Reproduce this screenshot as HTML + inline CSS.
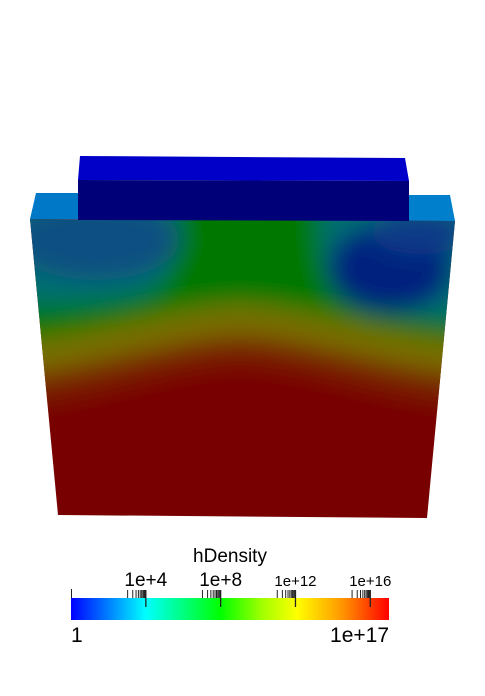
<!DOCTYPE html>
<html><head><meta charset="utf-8"><style>
html,body{margin:0;padding:0;background:#fff;width:485px;height:696px;overflow:hidden}
svg{display:block}
text{font-family:"Liberation Sans","DejaVu Sans",sans-serif;fill:#000}
</style></head><body>
<svg width="485" height="696" viewBox="0 0 485 696">
<defs>
<clipPath id="face"><polygon points="30,219 455,221 427,518 58,515"/></clipPath>
<filter id="blur" x="-20%" y="-20%" width="140%" height="140%"><feGaussianBlur stdDeviation="12"/></filter>
<linearGradient id="cmap" x1="0" x2="1" y1="0" y2="0">
<stop offset="0" stop-color="#0000ff"/><stop offset="0.235" stop-color="#00ffff"/>
<stop offset="0.47" stop-color="#00ff00"/><stop offset="0.6" stop-color="#a0ff00"/>
<stop offset="0.71" stop-color="#ffff00"/><stop offset="0.85" stop-color="#ff9900"/>
<stop offset="1" stop-color="#ff0000"/></linearGradient>
</defs>
<g>
<polygon points="36,193 80,193 78,219 30,219" fill="#0078c8"/>
<polygon points="409,195 450,195 455,221 409,221" fill="#0080cc"/>
<g clip-path="url(#face)">
<rect x="0" y="150" width="485" height="380" fill="#780000"/>
<g filter="url(#blur)">
<path d="M-20,130 L505,130 L505,410 C400,405 300,365 240,365 C180,365 80,405 -20,410Z" fill="#782800"/>
<path d="M-20,130 L505,130 L505,378 C400,372 300,335 240,335 C180,335 80,372 -20,378Z" fill="#787000"/>
<path d="M-20,130 L505,130 L505,345 C400,340 300,305 240,305 C180,305 80,340 -20,345Z" fill="#007800"/>
<path d="M-20,130 L178,130 C180,240 178,285 140,295 C100,305 40,305 -20,305Z" fill="#007070"/>
<path d="M320,130 L505,130 L505,325 C440,320 360,315 335,290 C318,270 318,230 320,130Z" fill="#007070"/>
<ellipse cx="95" cy="240" rx="85" ry="40" fill="#0a5082"/>
<ellipse cx="390" cy="268" rx="62" ry="45" fill="#06207e"/>
<ellipse cx="420" cy="232" rx="50" ry="22" fill="#0a3a88"/>
</g></g></g>
<g>
<polygon points="80,156 405,158 409,181 78,180" fill="#0000c8"/>
<polygon points="78,180 409,181 409,221 78,220" fill="#000078"/>
</g>
<g>
<text x="230" y="562" font-size="19" text-anchor="middle">hDensity</text>
<rect x="71" y="598" width="318" height="22" fill="url(#cmap)"/>
<g id="ticks"></g>
<text x="71" y="642" font-size="21">1</text>
<text x="389" y="642" font-size="21" text-anchor="end">1e+17</text>
</g>
</svg>
<script>
const majorExps=[4,8,12,16];
const majorLabels=["1e+4","1e+8","1e+12","1e+16"];
const labelSizes=[19,19,15,15];
const minExp=0, maxExp=17;
const X0=71, W=318;
function xs(e){return X0+W*(e-minExp)/(maxExp-minExp);}
const g=document.getElementById('ticks');
const NS="http://www.w3.org/2000/svg";
function line(x1,y1,x2,y2,w){const l=document.createElementNS(NS,'line');
l.setAttribute('x1',x1);l.setAttribute('y1',y1);l.setAttribute('x2',x2);l.setAttribute('y2',y2);
l.setAttribute('stroke','#222');l.setAttribute('stroke-width',w);


g.appendChild(l);}
line(X0+0.5,589,X0+0.5,598,1);
majorExps.forEach((e,i)=>{
  const base=e-1;
  line(xs(base)+0.5,590,xs(base)+0.5,598,1);
  for(let k=2;k<=9;k++){const x=xs(base+Math.log10(k));line(x,590,x,598,1);}
  const xm=xs(e);
  line(xm,590,xm,607,1.3);
  const t=document.createElementNS(NS,'text');
  t.setAttribute('x',xm);t.setAttribute('y',586);t.setAttribute('font-size',labelSizes[i]);
  t.setAttribute('text-anchor','middle');t.textContent=majorLabels[i];
  
  
  g.appendChild(t);
});
</script>
</body></html>
